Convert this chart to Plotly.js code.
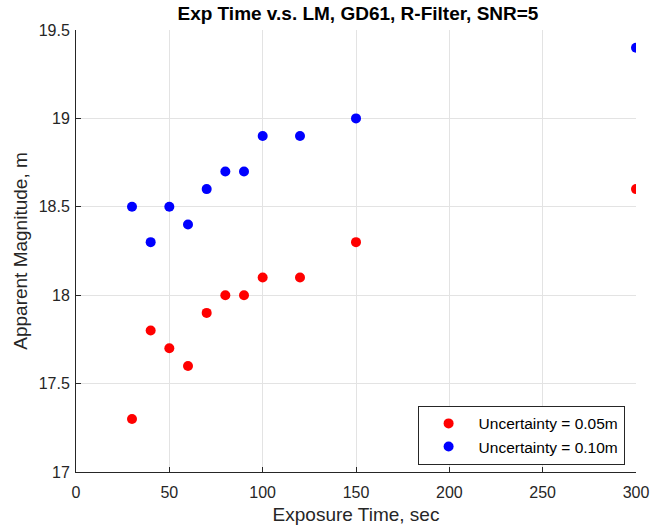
<!DOCTYPE html>
<html>
<head>
<meta charset="utf-8">
<script src="https://cdn.plot.ly/plotly-3.0.1.min.js"></script>
<style>html,body{margin:0;padding:0;background:#fff;}#chart{width:652px;height:529px;}</style>
</head>
<body>
<div id="chart"></div>
<script>
const expTime = [30, 40, 50, 60, 70, 80, 90, 100, 120, 150, 300];
const magUnc005 = [17.3, 17.8, 17.7, 17.6, 17.9, 18.0, 18.0, 18.1, 18.1, 18.3, 18.6];
const magUnc010 = [18.5, 18.3, 18.5, 18.4, 18.6, 18.7, 18.7, 18.9, 18.9, 19.0, 19.4];
const xTicks = [0, 50, 100, 150, 200, 250, 300];
const yTicks = [17, 17.5, 18, 18.5, 19, 19.5];
const yTickText = ['17', '17.5', '18', '18.5', '19', '19.5'];

const font = 'Liberation Sans, Arial, sans-serif';
const traces = [
  {x: expTime, y: magUnc005, mode: 'markers', type: 'scatter', name: 'Uncertainty = 0.05m',
   marker: {color: '#ff0000', size: 10}},
  {x: expTime, y: magUnc010, mode: 'markers', type: 'scatter', name: 'Uncertainty = 0.10m',
   marker: {color: '#0000ff', size: 10}}
];
const axisCommon = {
  showline: true, linecolor: '#262626', linewidth: 1, mirror: false,
  showgrid: true, gridcolor: '#e3e3e3', gridwidth: 1,
  ticks: 'inside', ticklen: 5, tickcolor: '#262626',
  zeroline: false, tickfont: {family: font, size: 16, color: '#262626'}
};
const layout = {
  width: 652, height: 529,
  margin: {l: 76, r: 16, t: 30, b: 57},
  paper_bgcolor: '#ffffff', plot_bgcolor: '#ffffff',
  showlegend: true,
  title: {text: '<b>Exp Time v.s. LM, GD61, R-Filter, SNR=5</b>', font: {family: font, size: 19, color: '#000000'},
          x: 0.549, xanchor: 'center', y: 0.975, yanchor: 'middle'},
  xaxis: Object.assign({}, axisCommon, {range: [0, 300], tickvals: xTicks, ticktext: xTicks.map(String),
    ticklabelstandoff: 6,
    title: {text: 'Exposure Time, sec', font: {family: font, size: 19, color: '#262626'}, standoff: 7}}),
  yaxis: Object.assign({}, axisCommon, {range: [17, 19.5], tickvals: yTicks, ticktext: yTickText,
    ticklabelstandoff: 2,
    title: {text: 'Apparent Magnitude, m', font: {family: font, size: 19, color: '#262626'}, standoff: 6}}),
  legend: {x: 0.61, y: 0.083, xanchor: 'left', yanchor: 'middle',
    bgcolor: '#ffffff', bordercolor: '#262626', borderwidth: 1,
    font: {family: font, size: 15.5, color: '#000000'}, itemwidth: 50, tracegroupgap: 0}
};
Plotly.newPlot('chart', traces, layout, {displayModeBar: false, staticPlot: true});
</script>
</body>
</html>
